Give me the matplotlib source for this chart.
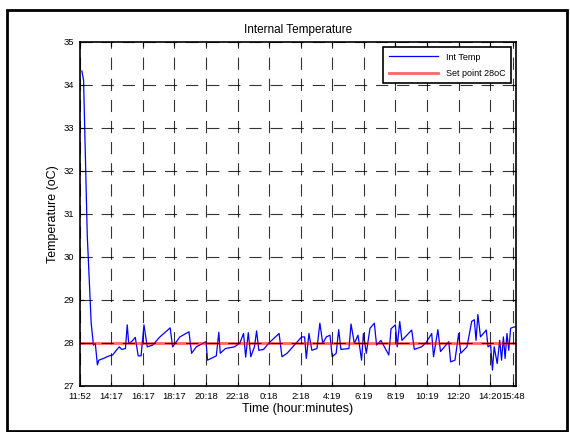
import matplotlib
matplotlib.use('Agg')
import matplotlib.pyplot as plt
import numpy as np

plt.rcParams['font.family'] = ['Liberation Sans', 'DejaVu Sans']

# sample index (5-minute steps) and internal temperature
sample = [1.7, 3.0, 5.8, 8.8, 10.5, 11.9, 13.5, 14.6, 18.2, 22.4, 25.1, 27.9, 30.1, 32.0,
          34.8, 36.2, 37.3, 39.5, 42.3, 44.5, 46.7, 48.9, 51.4, 55.5, 61.0, 68.8, 70.7,
          76.2, 83.1, 85.1, 88.7, 94.2, 96.1, 97.2, 103.9, 105.8, 106.9, 110.8, 117.7,
          121.8, 124.6, 126.2, 128.2, 130.1, 132.9, 134.5, 136.2, 139.8, 143.9, 151.6,
          153.8, 157.7, 163.2, 168.8, 171.0, 172.3, 174.3, 176.5, 180.4, 182.6, 184.8,
          187.5, 190.3, 192.0, 195.0, 196.9, 198.6, 204.7, 206.3, 208.8, 211.6, 214.3,
          215.7, 217.9, 220.7, 224.0, 225.7, 229.0, 235.0, 236.7, 240.0, 241.4, 243.3,
          245.0, 252.4, 254.4, 259.9, 263.2, 267.6, 269.0, 272.3, 274.3, 280.6, 282.0,
          285.3, 288.1, 289.7, 294.4, 298.0, 300.0, 301.3, 302.7, 304.7, 309.1, 310.4,
          312.4, 313.8, 315.1, 317.4, 319.3, 320.7, 322.1, 323.4, 324.8, 326.2, 327.6,
          329.0, 331.7]
int_temp = [34.32, 34.1, 30.5, 28.45, 27.95, 27.99, 27.49, 27.6, 27.64, 27.7, 27.72, 27.83,
            27.91, 27.85, 27.87, 28.42, 27.99, 28.03, 28.13, 27.7, 27.7, 28.42, 27.91,
            27.95, 28.14, 28.35, 27.91, 28.14, 28.26, 27.76, 27.91, 28.0, 28.03, 27.6,
            27.7, 28.25, 27.76, 27.87, 27.91, 28.0, 28.22, 27.67, 28.24, 27.68, 27.91,
            28.28, 27.83, 27.85, 28.0, 28.22, 27.68, 27.76, 27.95, 28.14, 28.14, 27.64,
            28.22, 27.83, 27.87, 28.46, 27.99, 28.14, 28.18, 27.68, 27.76, 28.31, 27.85,
            27.87, 28.44, 27.99, 28.18, 27.6, 28.22, 27.76, 28.34, 28.46, 27.95, 28.06,
            27.72, 28.33, 28.42, 27.91, 28.5, 28.06, 28.3, 27.85, 27.91, 28.0, 28.22,
            27.68, 28.31, 27.8, 28.03, 27.56, 27.6, 28.22, 27.76, 27.91, 28.5, 28.54,
            28.06, 28.66, 28.14, 28.3, 27.91, 27.95, 27.37, 27.91, 27.52, 28.06, 27.6,
            28.14, 27.64, 28.22, 27.83, 28.34, 28.36, 28.38]
set_point = 28

tick_pos = [0, 24, 48, 72, 96, 120, 144, 168, 192, 216, 240, 264, 288, 312, 329.5]
tick_labels = ['11:52', '14:17', '16:17', '18:17', '20:18', '22:18', '0:18', '2:18',
               '4:19', '6:19', '8:19', '10:19', '12:20', '14:20', '15:48']

fig = plt.figure(figsize=(5.7, 4.32), dpi=100)
ax = fig.add_axes([0.1397, 0.1065, 0.7656, 0.797])

ax.plot(sample, int_temp, color='blue', linewidth=0.9, label='Int Temp')
ax.axhline(set_point, color='red', linewidth=2, alpha=0.6, label='Set point 28oC')

ax.set_xlim(0, 331.7)
ax.set_ylim(27, 35)
ax.set_xticks(tick_pos)
ax.set_xticklabels(tick_labels, fontsize=6.8)
ax.set_yticks(range(27, 36))
ax.tick_params(direction='in', length=3, top=True, right=True)
ax.tick_params(axis='x', pad=4.5)
ax.tick_params(axis='y', labelsize=6.8, pad=4)
ax.set_axisbelow(False)
ax.grid(True, color='k', linestyle=(0, (11, 8)), linewidth=0.8, alpha=0.8)
for s in ax.spines.values():
    s.set_linewidth(1.2)

ax.set_title('Internal Temperature', fontsize=8.5, pad=6)
ax.set_xlabel('Time (hour:minutes)', fontsize=9, labelpad=1)
ax.set_ylabel('Temperature (oC)', fontsize=9, labelpad=3)

leg = ax.legend(loc='upper right', fontsize=6.5, fancybox=False, framealpha=1,
                edgecolor='k', handlelength=5.5, borderaxespad=0.6, borderpad=0.6,
                labelspacing=0.8)
leg.get_frame().set_linewidth(1.2)

# outer figure frame
fig.patches.append(plt.Rectangle((6.5 / 570, 0.002), 560 / 570, 1 - 0.002 - 9.5 / 432,
                                 transform=fig.transFigure, fill=False,
                                 edgecolor='k', linewidth=2))

fig.savefig('out.png', dpi=100)
